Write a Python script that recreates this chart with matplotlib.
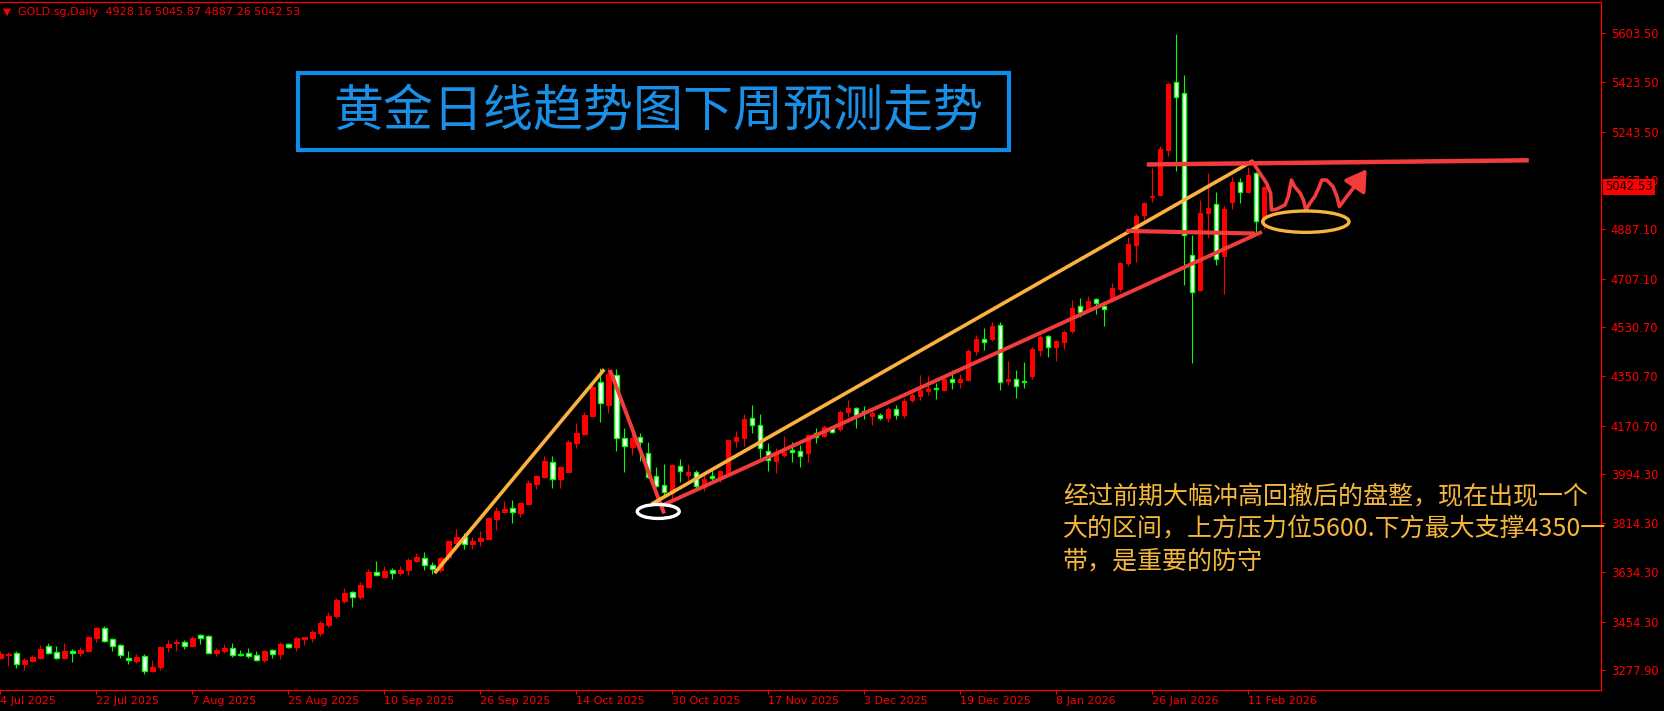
import numpy as np
import matplotlib.pyplot as plt
from matplotlib.patches import Ellipse, Rectangle
import matplotlib.transforms as mtransforms

plt.rcParams['font.family'] = ['DejaVu Sans']
cjk = ['Noto Sans CJK SC', 'DejaVu Sans']

# --- daily OHLC (bar 0 = 4 Jul 2025, last bar = 13 Feb 2026) ---
opens = [3322, 3333, 3339, 3301, 3311, 3322, 3365, 3343, 3323, 3348,
         3340, 3349, 3396, 3432, 3391, 3370, 3322, 3311, 3328, 3275,
         3289, 3361, 3377, 3380, 3366, 3405, 3402, 3342, 3348, 3359,
         3335, 3340, 3333, 3316, 3351, 3338, 3372, 3362, 3392, 3395,
         3413, 3441, 3475, 3530, 3563, 3546, 3581, 3636, 3618, 3643,
         3631, 3643, 3676, 3688, 3660, 3643, 3692, 3743, 3765, 3737,
         3749, 3756, 3829, 3855, 3868, 3853, 3885, 3958, 3983, 4036,
         3974, 4002, 4108, 4141, 4206, 4330, 4247, 4354, 4124, 4094,
         4128, 4072, 3987, 3952, 3925, 4023, 3990, 4002, 3945, 3985,
         3975, 3996, 4114, 4126, 4197, 4171, 4079, 4042, 4063, 4080,
         4078, 4069, 4142, 4134, 4160, 4157, 4221, 4234, 4225, 4205,
         4209, 4197, 4230, 4210, 4264, 4280, 4297, 4307, 4300, 4339,
         4331, 4337, 4443, 4486, 4487, 4537, 4333, 4341, 4333, 4352,
         4447, 4498, 4459, 4476, 4516, 4607, 4594, 4632, 4607, 4629,
         4668, 4763, 4830, 4939, 5006, 5012, 5177, 5424, 5384, 4792,
         4666, 4946, 4980, 4791, 4988, 5059, 5022, 5092, 4928.16]
highs = [3346, 3344, 3348, 3321, 3333, 3368, 3376, 3365, 3377, 3354,
         3361, 3402, 3435, 3439, 3395, 3373, 3348, 3335, 3335, 3315,
         3366, 3388, 3391, 3388, 3402, 3410, 3406, 3359, 3373, 3377,
         3351, 3359, 3348, 3352, 3354, 3380, 3376, 3398, 3399, 3424,
         3456, 3490, 3541, 3578, 3567, 3600, 3646, 3676, 3659, 3651,
         3658, 3687, 3704, 3709, 3671, 3690, 3753, 3792, 3777, 3763,
         3786, 3838, 3872, 3894, 3899, 3892, 3972, 3991, 4060, 4060,
         4024, 4117, 4180, 4220, 4318, 4380, 4380, 4376, 4161, 4142,
         4142, 4109, 4019, 4030, 4030, 4049, 4030, 4007, 3990, 4017,
         4008, 4122, 4151, 4213, 4246, 4213, 4106, 4087, 4134, 4109,
         4100, 4140, 4161, 4173, 4170, 4227, 4264, 4237, 4242, 4233,
         4215, 4240, 4245, 4270, 4290, 4355, 4352, 4325, 4347, 4374,
         4359, 4450, 4501, 4526, 4550, 4550, 4406, 4374, 4404, 4456,
         4501, 4501, 4482, 4520, 4629, 4638, 4645, 4635, 4619, 4690,
         4767, 4860, 4943, 4988, 5110, 5191, 5424, 5600, 5451, 4866,
         4994, 5092, 5022, 4972, 5079, 5076, 5116, 5098, 5045.87]
lows = [3320, 3293, 3287, 3279, 3309, 3318, 3338, 3318, 3318, 3307,
        3331, 3345, 3382, 3382, 3349, 3323, 3301, 3304, 3265, 3272,
        3279, 3345, 3348, 3356, 3362, 3373, 3340, 3331, 3340, 3326,
        3331, 3323, 3312, 3309, 3323, 3318, 3359, 3348, 3370, 3380,
        3402, 3435, 3468, 3523, 3508, 3539, 3578, 3625, 3618, 3610,
        3625, 3625, 3674, 3645, 3627, 3635, 3680, 3741, 3719, 3721,
        3732, 3755, 3789, 3850, 3816, 3838, 3882, 3940, 3980, 3944,
        3944, 4000, 4090, 4136, 4201, 4184, 4218, 4079, 4002, 4063,
        4042, 3978, 3948, 3911, 3890, 3966, 3972, 3940, 3930, 3965,
        3965, 3990, 4094, 4097, 4142, 4051, 4006, 3996, 4057, 4039,
        4021, 4039, 4106, 4128, 4142, 4152, 4203, 4163, 4193, 4173,
        4190, 4185, 4195, 4200, 4255, 4264, 4282, 4268, 4298, 4303,
        4309, 4333, 4428, 4447, 4479, 4300, 4319, 4272, 4307, 4341,
        4425, 4422, 4406, 4450, 4509, 4568, 4590, 4578, 4535, 4623,
        4660, 4754, 4769, 4921, 4988, 5009, 5155, 5101, 4684, 4400,
        4663, 4854, 4757, 4651, 4961, 4984, 5019, 4879, 4887.26]
closes = [3337, 3335, 3301, 3316, 3326, 3355, 3342, 3323, 3348, 3339,
          3352, 3399, 3432, 3385, 3367, 3334, 3314, 3326, 3273, 3289,
          3362, 3374, 3382, 3367, 3395, 3396, 3342, 3350, 3360, 3333,
          3333, 3329, 3314, 3349, 3338, 3374, 3362, 3395, 3398, 3418,
          3451, 3477, 3534, 3559, 3546, 3589, 3636, 3626, 3640, 3634,
          3645, 3681, 3691, 3660, 3646, 3686, 3749, 3763, 3738, 3749,
          3760, 3833, 3857, 3866, 3856, 3888, 3961, 3988, 4041, 3974,
          4021, 4111, 4142, 4208, 4313, 4252, 4360, 4124, 4097, 4124,
          4112, 3984, 3951, 3929, 4027, 4005, 4002, 3950, 3975, 3981,
          4005, 4118, 4130, 4195, 4171, 4087, 4045, 4075, 4075, 4075,
          4061, 4136, 4130, 4167, 4148, 4219, 4235, 4209, 4215, 4215,
          4197, 4230, 4210, 4262, 4282, 4300, 4304, 4303, 4341, 4331,
          4339, 4443, 4487, 4477, 4534, 4331, 4339, 4316, 4329, 4450,
          4493, 4456, 4479, 4512, 4600, 4587, 4625, 4617, 4595, 4674,
          4763, 4834, 4936, 4984, 5010, 5179, 5418, 5369, 4866, 4659,
          4948, 4966, 4778, 4961, 5061, 5025, 5085, 4919, 5042.53]

date_ticks = [0, 12, 24, 36, 48, 60, 72, 84, 96, 108, 120, 132, 144, 156]
date_labels = ['4 Jul 2025', '22 Jul 2025', '7 Aug 2025', '25 Aug 2025',
               '10 Sep 2025', '26 Sep 2025', '14 Oct 2025', '30 Oct 2025',
               '17 Nov 2025', '3 Dec 2025', '19 Dec 2025', '8 Jan 2026',
               '26 Jan 2026', '11 Feb 2026']
price_ticks = [5603.50, 5423.50, 5243.50, 5067.10, 4887.10, 4707.10, 4530.70,
               4350.70, 4170.70, 3994.30, 3814.30, 3634.30, 3454.30, 3277.90]

# hand-drawn annotations, in (bar, price)
yellow1_x, yellow1_y = [54.3, 75.5], [3632, 4376]
red_down_x, red_down_y = [76.3, 82.9], [4367, 3856]
yellow2_x, yellow2_y = [81.6, 156.4], [3887, 5134]
red_up_x, red_up_y = [82.9, 157.5], [3881, 4875]
red_top_x, red_top_y = [143.6, 190.8], [5124, 5139]
red_mid_x, red_mid_y = [141.0, 156.6], [4881, 4872]
wave_x = [156.55, 157.46, 158.3, 158.8, 158.9, 159.5, 160.6, 161.0, 161.4, 161.8,
          162.5, 162.9, 163.2, 163.7, 164.3, 164.8, 165.2, 165.8, 166.6, 167.1,
          167.4, 168.3, 169.6]
wave_y = [5134, 5092, 5055, 5019, 4958, 4960, 4976, 5006, 5067, 5043,
          5019, 4994, 4958, 4982, 5006, 5037, 5067, 5067, 5043, 5006,
          4970, 5006, 5055]
arrow_tip = (171.0, 5115)

title = '黄金日线趋势图下周预测走势'
note = ('经过前期大幅冲高回撤后的盘整，现在出现一个\n'
        '大的区间，上方压力位5600.下方最大支撑4350一\n'
        '带，是重要的防守')

o = np.array(opens, dtype=float)
h = np.array(highs, dtype=float)
l = np.array(lows, dtype=float)
c = np.array(closes, dtype=float)
x = np.arange(len(c))
up = c >= o

fig = plt.figure(figsize=(16.64, 7.11), dpi=100, facecolor='black')
ax = fig.add_axes([0, 21 / 711, 1601 / 1664, 688 / 711])
ax.set_facecolor('black')

RED = '#ff0000'
GREEN = '#00ff00'

# wicks then bodies
ax.vlines(x[up], l[up], h[up], color=RED, lw=0.8, zorder=2)
ax.vlines(x[~up], l[~up], h[~up], color=GREEN, lw=0.8, zorder=2)
body_lo = np.minimum(o, c)
body_h = np.maximum(np.abs(c - o), 1.0)
ax.bar(x[up], body_h[up], bottom=body_lo[up], width=0.56,
       color=RED, edgecolor=RED, lw=0.7, zorder=3)
ax.bar(x[~up], body_h[~up], bottom=body_lo[~up], width=0.56,
       color='white', edgecolor=GREEN, lw=1.0, zorder=3)

ax.set_xlim(-0.0375, 200.1)
ax.set_ylim(3205.2, 5717.0)

# drawn trend lines
YEL = '#fbb140'
LRED = '#f23c3c'
ax.plot(yellow1_x, yellow1_y, color=YEL, lw=2.6, solid_capstyle='butt', zorder=5)
ax.plot(red_down_x, red_down_y, color=LRED, lw=2.8, zorder=5)
ax.plot(yellow2_x, yellow2_y, color=YEL, lw=2.6, zorder=5)
ax.plot(red_up_x, red_up_y, color=LRED, lw=2.8, zorder=5)
ax.plot(red_top_x, red_top_y, color=LRED, lw=3.2, zorder=5)
ax.plot(red_mid_x, red_mid_y, color=LRED, lw=3.0, zorder=5)
ax.plot(wave_x, wave_y, color=LRED, lw=2.6, solid_joinstyle='round', zorder=5)
ax.annotate('', xy=arrow_tip, xytext=(wave_x[-1], wave_y[-1]),
            arrowprops=dict(arrowstyle='-|>,head_length=0.9,head_width=0.55',
                            color=LRED, lw=2.6, mutation_scale=14), zorder=5)

ax.add_patch(Ellipse((82.25, 3857), 5.25, 51, fill=False, ec='white', lw=2.4, zorder=6))
ax.add_patch(Ellipse((163.2, 4915), 10.8, 78, fill=False, ec='#f5b53f', lw=2.4, zorder=6))

# axes styling (MT4 look)
for side in ['top', 'right', 'bottom']:
    ax.spines[side].set_color(RED)
    ax.spines[side].set_linewidth(0.9)
ax.spines['left'].set_visible(False)
ax.yaxis.tick_right()
ax.set_yticks(price_ticks)
ax.set_yticklabels(['%.2f' % p for p in price_ticks])
ax.set_xticks(date_ticks)
ax.set_xticklabels(date_labels, ha='left')
ax.tick_params(axis='y', colors=RED, labelsize=8.3, length=3, width=0.8, pad=4)
ax.tick_params(axis='x', colors=RED, labelsize=8, length=3, width=0.8, pad=1)

# last price tag
ax.annotate('5042.53', xy=(1.0, closes[-1]),
            xycoords=mtransforms.blended_transform_factory(ax.transAxes, ax.transData),
            xytext=(3, 0), textcoords='offset points', ha='left', va='center',
            fontsize=8.3, color='black', zorder=10, annotation_clip=False,
            bbox=dict(boxstyle='square,pad=0.15', fc=RED, ec='none'))

# header line
fig.text(3 / 1664, 1 - 12 / 711, '▼', color=RED, fontsize=7.5, va='center')
fig.text(18 / 1664, 1 - 12 / 711, 'GOLD.sg,Daily  4928.16 5045.87 4887.26 5042.53',
         color=RED, fontsize=8, va='center')

# title box
BLUE = '#0e8ce8'
fig.patches.append(Rectangle((298.3 / 1664, 1 - 149.7 / 711), 710.2 / 1664, 76.5 / 711,
                             transform=fig.transFigure, fill=False, ec=BLUE, lw=3.0))
fig.text(658 / 1664, 1 - 112 / 711, title, family=cjk, fontsize=36, color='#1a8fe6',
         ha='center', va='center')

fig.text(1063 / 1664, 1 - 484 / 711, note, family=cjk, fontsize=18, color='#f5b73b',
         ha='left', va='top', linespacing=1.32)

plt.savefig('out.png', dpi=100, facecolor='black')
